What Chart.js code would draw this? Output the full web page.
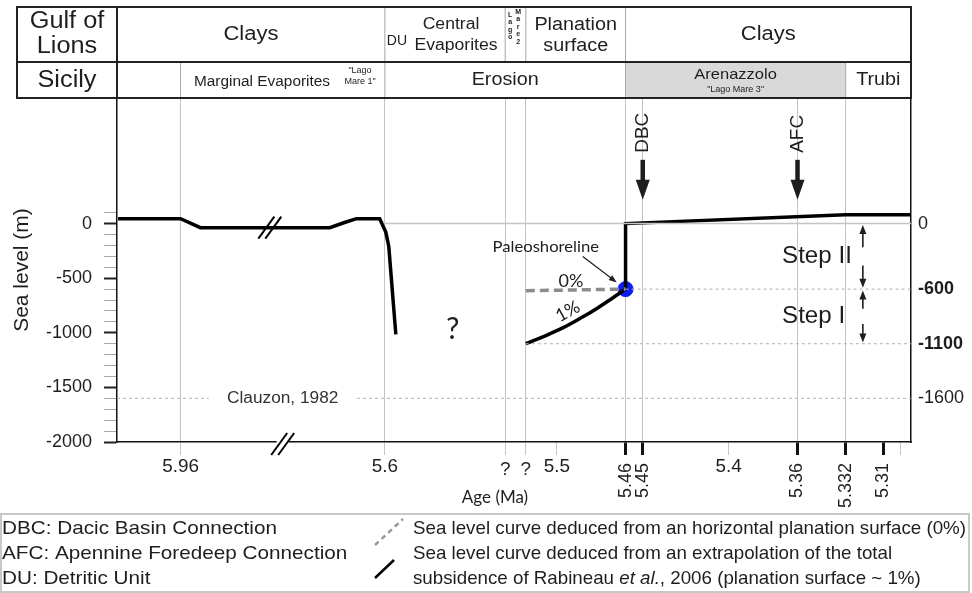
<!DOCTYPE html>
<html>
<head>
<meta charset="utf-8">
<title>Sea level – Messinian</title>
<script src="https://cdn.jsdelivr.net/npm/chart.js@4.4.1/dist/chart.umd.min.js"></script>
<style>
  html, body { margin: 0; padding: 0; background: #fff; }
  #wrap { width: 972px; height: 593px; position: relative; }
</style>
</head>
<body>
<div id="wrap"><canvas id="sea-level"></canvas></div>
<script>
'use strict';

/////////////////////
//// Data ///////////

// ages in Ma, sea level in m
const ageStart = 6.072;
const ageEnd = 5.294;

const tickAges   = [5.96, 5.6, 5.53, 5.518, 5.5, 5.46, 5.45, 5.4, 5.36, 5.332, 5.31, 5.30];
const tickLabels = ['5.96', '5.6', '?', '?', '5.5', '5.46', '5.45', '5.4', '5.36', '5.332', '5.31', ''];

const leftMajorTicks = [-2000, -1500, -1000, -500, 0];
const rightTicks = [0, -600, -1100, -1600];

// curve before the crisis peak
const earlyAges   = [6.07, 5.96, 5.925, 5.697, 5.671, 5.65, 5.609, 5.5994, 5.5977, 5.5936];
const earlyLevels = [45, 45, -37, -37, 10, 45, 45, -80, -210, -1015];

// 1% planation surface curve
const onePctAges   = [5.518, 5.506, 5.4963, 5.4866, 5.4769, 5.4673, 5.46];
const onePctLevels = [-1100, -1023, -953, -870, -779, -679, -600];

// 0% planation surface curve
const zeroPctAges   = [5.518, 5.46];
const zeroPctLevels = [-615, -600];

// reflooding
const refillAges   = [5.46, 5.46, 5.332, 5.29];
const refillLevels = [-600, 0, 80, 80];

const shoreAge = 5.46;
const shoreLevel = -600;

// dotted reference levels
const refLevels    = [-600, -1100, -1600];
const refStartAges = [5.46, 5.518, 6.072];
const zeroLineStart = 5.6;

const steps = [['Step II', 0, -600], ['Step I', -600, -1100]];
const connections = [['DBC', 5.45], ['AFC', 5.36]];

/////////////////////
//// Helpers ////////

const ARIAL = "'Liberation Sans', Arial, sans-serif";
const SOFT = "Lato, 'Open Sans', sans-serif";
const INK = '#1e1e1e';

// ages older than 5.6 Ma sit behind the axis break and are squeezed
const BREAK_AGE = 5.6;
const SQUEEZE = 0.33;
const toAxis = a => a > BREAK_AGE ? BREAK_AGE + (a - BREAK_AGE) * SQUEEZE : a;
const pts = (ages, levels) => ages.map((a, i) => ({ x: toAxis(a), y: levels[i] }));

const gridLabels = new Set(['5.96', '5.6', '?', '5.46', '5.45', '5.36', '5.332']);
const upright = new Set(['5.46', '5.45', '5.36', '5.332', '5.31']);
const boldRight = [-600, -1100];

function text(ctx, str, x, y, font, align, sx) {
  ctx.save();
  ctx.font = font;
  ctx.textAlign = align || 'center';
  ctx.textBaseline = 'middle';
  ctx.translate(x, y);
  ctx.scale(sx || 1, 1);
  ctx.fillText(str, 0, 0);
  ctx.restore();
}

function line(ctx, x1, y1, x2, y2) {
  ctx.beginPath();
  ctx.moveTo(x1, y1);
  ctx.lineTo(x2, y2);
  ctx.stroke();
}

function arrow(ctx, x1, y1, x2, y2, lw, len, half) {
  const ang = Math.atan2(y2 - y1, x2 - x1);
  const c = Math.cos(ang), s = Math.sin(ang);
  ctx.lineWidth = lw;
  line(ctx, x1, y1, x2 - len * 0.7 * c, y2 - len * 0.7 * s);
  ctx.beginPath();
  ctx.moveTo(x2, y2);
  ctx.lineTo(x2 - len * c + half * s, y2 - len * s - half * c);
  ctx.lineTo(x2 - len * c - half * s, y2 - len * s + half * c);
  ctx.closePath();
  ctx.fill();
}

function breakMark(ctx, x, y) {
  ctx.save();
  ctx.strokeStyle = '#000';
  ctx.lineWidth = 2;
  [-3.5, 3.5].forEach(d => line(ctx, x + d - 8, y + 11, x + d + 8, y - 11));
  ctx.restore();
}

/////////////////////
//// Decorations ////

const decor = {
  id: 'decor',
  afterDatasetsDraw(chart) {
    const { ctx } = chart;
    const X = a => chart.scales.x.getPixelForValue(toAxis(a));
    const Y = v => chart.scales.y.getPixelForValue(v);
    ctx.save();
    ctx.fillStyle = INK;
    ctx.strokeStyle = INK;

    // axis breaks
    breakMark(ctx, X(5.8027), Y(-37));

    // Clauzon label sits in a gap of its dotted line
    const cx = X(5.78), cy = Y(-1600);
    ctx.fillStyle = '#fff';
    ctx.fillRect(cx - 74, cy - 9, 148, 18);
    ctx.fillStyle = '#333';
    text(ctx, 'Clauzon, 1982', cx, cy, '16px ' + ARIAL, 'center', 1.08);

    ctx.fillStyle = INK;
    text(ctx, '?', X(5.5605), Y(-968), '30px ' + SOFT);
    text(ctx, 'Paleoshoreline', X(5.5064), Y(-210), '16px ' + SOFT, 'center', 1.04);
    text(ctx, '0%', X(5.4918), Y(-530), '18px ' + SOFT);
    ctx.save();
    ctx.translate(X(5.4936), Y(-804));
    ctx.rotate(-0.5);
    text(ctx, '1%', 0, 0, '18px ' + SOFT);
    ctx.restore();
    arrow(ctx, X(5.4849), Y(-301), X(5.4651), Y(-539), 1.2, 8, 3);

    // connection arrows
    connections.forEach(([name, age]) => {
      const x = X(age);
      arrow(ctx, x, Y(584), x, Y(219), 4.5, 20, 7);
      ctx.save();
      ctx.translate(x, Y(648));
      ctx.rotate(-Math.PI / 2);
      text(ctx, name, 0, 0, '19px ' + ARIAL, 'left');
      ctx.restore();
    });

    // steps
    steps.forEach(([name, top, bottom]) => {
      const x = X(5.322);
      const span = top - bottom;
      arrow(ctx, x, Y(top - span * 0.36), x, Y(top - 12), 1.6, 9, 3.5);
      arrow(ctx, x, Y(bottom + span * 0.36), x, Y(bottom + 12), 1.6, 9, 3.5);
      text(ctx, name, X(5.369), Y((top + bottom) / 2), '23px ' + ARIAL, 'left', 1.05);
    });
    ctx.restore();
  },

  afterDraw(chart) {
    const { ctx, chartArea: area } = chart;
    const X = a => chart.scales.x.getPixelForValue(toAxis(a));
    ctx.save();
    ctx.fillStyle = INK;
    ctx.strokeStyle = INK;

    // axis break on the age axis
    ctx.fillStyle = '#fff';
    ctx.fillRect(X(5.78) - 6, area.bottom - 2, 12, 4);
    breakMark(ctx, X(5.78), area.bottom + 2);
    ctx.fillStyle = INK;

    // age tick labels
    tickAges.forEach((a, i) => {
      const lab = tickLabels[i];
      const x = X(a);
      if (upright.has(lab)) {
        ctx.save();
        ctx.translate(x, area.bottom + 21);
        ctx.rotate(-Math.PI / 2);
        text(ctx, lab, 0, 0, '18px ' + ARIAL, 'right');
        ctx.restore();
      } else if (lab) {
        text(ctx, lab, x, area.bottom + (lab === '?' ? 28 : 25), '18px ' + ARIAL, 'center', 1.05);
      }
    });
    text(ctx, 'Age (Ma)', 495, area.bottom + 56, '17px ' + SOFT);

    // stratigraphy table
    const top = 7, mid = 62, bot = area.top, left = 17, right = area.right;
    ctx.fillStyle = '#d9d9d9';
    ctx.fillRect(X(5.46), mid, X(5.332) - X(5.46), bot - mid);
    ctx.strokeStyle = '#a8a8a8';
    ctx.lineWidth = 1;
    [[5.6, top, bot], [5.53, top, mid], [5.518, top, mid], [5.46, top, bot],
     [5.96, mid, bot], [5.332, mid, bot]].forEach(([a, y1, y2]) => line(ctx, X(a), y1, X(a), y2));
    ctx.strokeStyle = '#222';
    ctx.lineWidth = 2;
    ctx.strokeRect(left, top, right - left, bot - top);
    line(ctx, left, mid, right, mid);
    line(ctx, area.left, top, area.left, bot);

    ctx.fillStyle = INK;
    const row1 = (top + mid) / 2, row2 = (mid + bot) / 2;
    const SX = 1.1;
    text(ctx, 'Gulf of', (left + area.left) / 2, 22, '23px ' + ARIAL, 'center', SX);
    text(ctx, 'Lions', (left + area.left) / 2, 47, '23px ' + ARIAL, 'center', SX);
    text(ctx, 'Sicily', (left + area.left) / 2, row2 + 1, '23px ' + ARIAL, 'center', SX);
    text(ctx, 'Clays', (area.left + X(5.6)) / 2, row1, '20px ' + ARIAL, 'center', SX);
    text(ctx, 'DU', X(5.6) + 2, 41, '14px ' + ARIAL, 'left');
    text(ctx, 'Central', 451, 25, '16px ' + ARIAL, 'center', SX);
    text(ctx, 'Evaporites', 456, 46, '16px ' + ARIAL, 'center', SX);
    ['L', 'a', 'g', 'o'].forEach((ch, i) => text(ctx, ch, X(5.53) + 5, 15 + i * 7.5, 'bold 7px ' + ARIAL));
    ['M', 'a', 'r', 'e', '2'].forEach((ch, i) => text(ctx, ch, X(5.53) + 13, 12 + i * 7.5, 'bold 7px ' + ARIAL));
    text(ctx, 'Planation', (X(5.518) + X(5.46)) / 2, 25, '18px ' + ARIAL, 'center', SX);
    text(ctx, 'surface', (X(5.518) + X(5.46)) / 2, 46, '18px ' + ARIAL, 'center', SX);
    text(ctx, 'Clays', (X(5.46) + right) / 2, row1, '20px ' + ARIAL, 'center', SX);
    text(ctx, 'Marginal Evaporites', 262, row2 + 2, '14px ' + ARIAL, 'center', SX);
    text(ctx, '"Lago', 360, 71, '9px ' + ARIAL);
    text(ctx, 'Mare 1"', 360, 82, '9px ' + ARIAL);
    text(ctx, 'Erosion', (X(5.6) + X(5.46)) / 2, row2, '18px ' + ARIAL, 'center', SX);
    text(ctx, 'Arenazzolo', (X(5.46) + X(5.332)) / 2, row2 - 5, '15px ' + ARIAL, 'center', SX);
    text(ctx, '"Lago Mare 3"', (X(5.46) + X(5.332)) / 2, row2 + 10, '9px ' + ARIAL);
    text(ctx, 'Trubi', (X(5.332) + right) / 2, row2, '18px ' + ARIAL, 'center', SX);

    // legend box
    ctx.strokeStyle = '#c8c8c8';
    ctx.lineWidth = 2;
    ctx.strokeRect(1, 514, 968, 78);
    ctx.fillStyle = INK;
    const LF = '19px ' + ARIAL;
    const first = 'Sea level curve deduced from an horizontal planation surface (0%)';
    const dbc = 'DBC: Dacic Basin Connection';
    ctx.font = LF;
    const LS = Math.min(1.07, 553 / ctx.measureText(first).width);
    const LL = 275 / ctx.measureText(dbc).width;
    text(ctx, dbc, 2, 529, LF, 'left', LL);
    text(ctx, 'AFC: Apennine Foredeep Connection', 2, 554, LF, 'left', LL);
    text(ctx, 'DU: Detritic Unit', 2, 579, LF, 'left', LL);
    ctx.save();
    ctx.strokeStyle = '#999';
    ctx.lineWidth = 2.5;
    ctx.setLineDash([5, 4]);
    line(ctx, 375, 545, 403, 519);
    ctx.restore();
    ctx.strokeStyle = '#000';
    ctx.lineWidth = 2.5;
    line(ctx, 375, 578, 394, 560);
    text(ctx, first, 413, 529, LF, 'left', LS);
    text(ctx, 'Sea level curve deduced from an extrapolation of the total', 413, 554, LF, 'left', LS);
    ctx.font = LF;
    const p1 = 'subsidence of Rabineau ', p2 = 'et al.';
    const w1 = ctx.measureText(p1).width * LS;
    ctx.font = 'italic ' + LF;
    const w2 = ctx.measureText(p2).width * LS;
    text(ctx, p1, 413, 579, LF, 'left', LS);
    text(ctx, p2, 413 + w1, 579, 'italic ' + LF, 'left', LS);
    text(ctx, ', 2006 (planation surface ~ 1%)', 413 + w1 + w2, 579, LF, 'left', LS);
    ctx.restore();
  }
};

/////////////////////
//// Chart //////////

const dotted = { borderColor: '#b0b0b0', borderWidth: 1, borderDash: [3, 3] };

const datasets = [
  ...refLevels.map((lvl, i) => Object.assign({
    data: pts([refStartAges[i], ageEnd], [lvl, lvl])
  }, dotted)),
  { data: pts([zeroLineStart, ageEnd], [0, 0]), borderColor: '#c4c4c4', borderWidth: 1.5 },
  { data: pts(zeroPctAges, zeroPctLevels), borderColor: '#8c8c8c', borderWidth: 3.5, borderDash: [9, 5] },
  { data: pts(earlyAges, earlyLevels), borderColor: '#000', borderWidth: 3.5 },
  { data: pts(onePctAges, onePctLevels), borderColor: '#000', borderWidth: 3.5, tension: 0.4 },
  { data: pts(refillAges, refillLevels), borderColor: '#000', borderWidth: 3.5 },
  { data: pts([shoreAge], [shoreLevel]), showLine: false, pointRadius: 7.5,
    pointBackgroundColor: '#0a1ef2', pointBorderColor: '#0a1ef2' }
].map(d => Object.assign({ showLine: true, pointRadius: 0, fill: false }, d));

Chart.defaults.font.family = ARIAL;
Chart.defaults.color = INK;

const ctxs = document.getElementById('sea-level').getContext('2d');
const chart = new Chart(ctxs, {
  type: 'scatter',
  data: { datasets },
  options: {
    responsive: true,
    maintainAspectRatio: false,
    animation: false,
    events: [],
    layout: { padding: { top: 98, left: 0, right: 0, bottom: 0 } },
    plugins: { legend: { display: false }, tooltip: { enabled: false } },
    scales: {
      x: {
        type: 'linear',
        reverse: true,
        min: toAxis(ageEnd),
        max: toAxis(ageStart),
        afterBuildTicks: s => { s.ticks = tickAges.map(a => ({ value: toAxis(a) })); },
        afterFit: s => { s.height = 151; },
        ticks: { display: false },
        grid: {
          color: c => gridLabels.has(tickLabels[c.index]) ? '#c4c4c4' : 'rgba(0,0,0,0)',
          tickColor: c => upright.has(tickLabels[c.index]) ? '#111' : '#c4c4c4',
          tickWidth: c => upright.has(tickLabels[c.index]) ? 3 : 1,
          tickLength: 13
        },
        border: { color: '#111', width: 1.5 }
      },
      y: {
        type: 'linear',
        position: 'left',
        min: -2000,
        max: 1150,
        afterBuildTicks: s => {
          const t = [];
          for (let v = -2000; v <= 100; v += 100) t.push({ value: v });
          s.ticks = t;
        },
        afterFit: s => { s.width = 117; },
        ticks: {
          autoSkip: false,
          padding: 12,
          font: { size: 18 },
          color: INK,
          callback: v => leftMajorTicks.includes(v) ? String(v) : ''
        },
        grid: {
          drawOnChartArea: false,
          tickLength: 13,
          tickColor: c => leftMajorTicks.includes(c.tick.value) ? '#222' : '#aaa',
          tickWidth: c => leftMajorTicks.includes(c.tick.value) ? 2 : 1
        },
        border: { color: '#111', width: 1.5 },
        title: { display: true, text: 'Sea level (m)', font: { size: 21 }, color: INK, padding: { top: 10, bottom: 0 } }
      },
      y2: {
        type: 'linear',
        position: 'right',
        min: -2000,
        max: 1150,
        afterBuildTicks: s => { s.ticks = rightTicks.map(v => ({ value: v })); },
        afterFit: s => { s.width = 61; },
        ticks: {
          autoSkip: false,
          padding: 7,
          color: INK,
          font: c => ({ size: 18, weight: c.tick && boldRight.includes(c.tick.value) ? 'bold' : 'normal' }),
          callback: v => String(v)
        },
        grid: { drawOnChartArea: false, drawTicks: false },
        border: { color: '#111', width: 1.5 }
      }
    }
  },
  plugins: [decor]
});
</script>
</body>
</html>
